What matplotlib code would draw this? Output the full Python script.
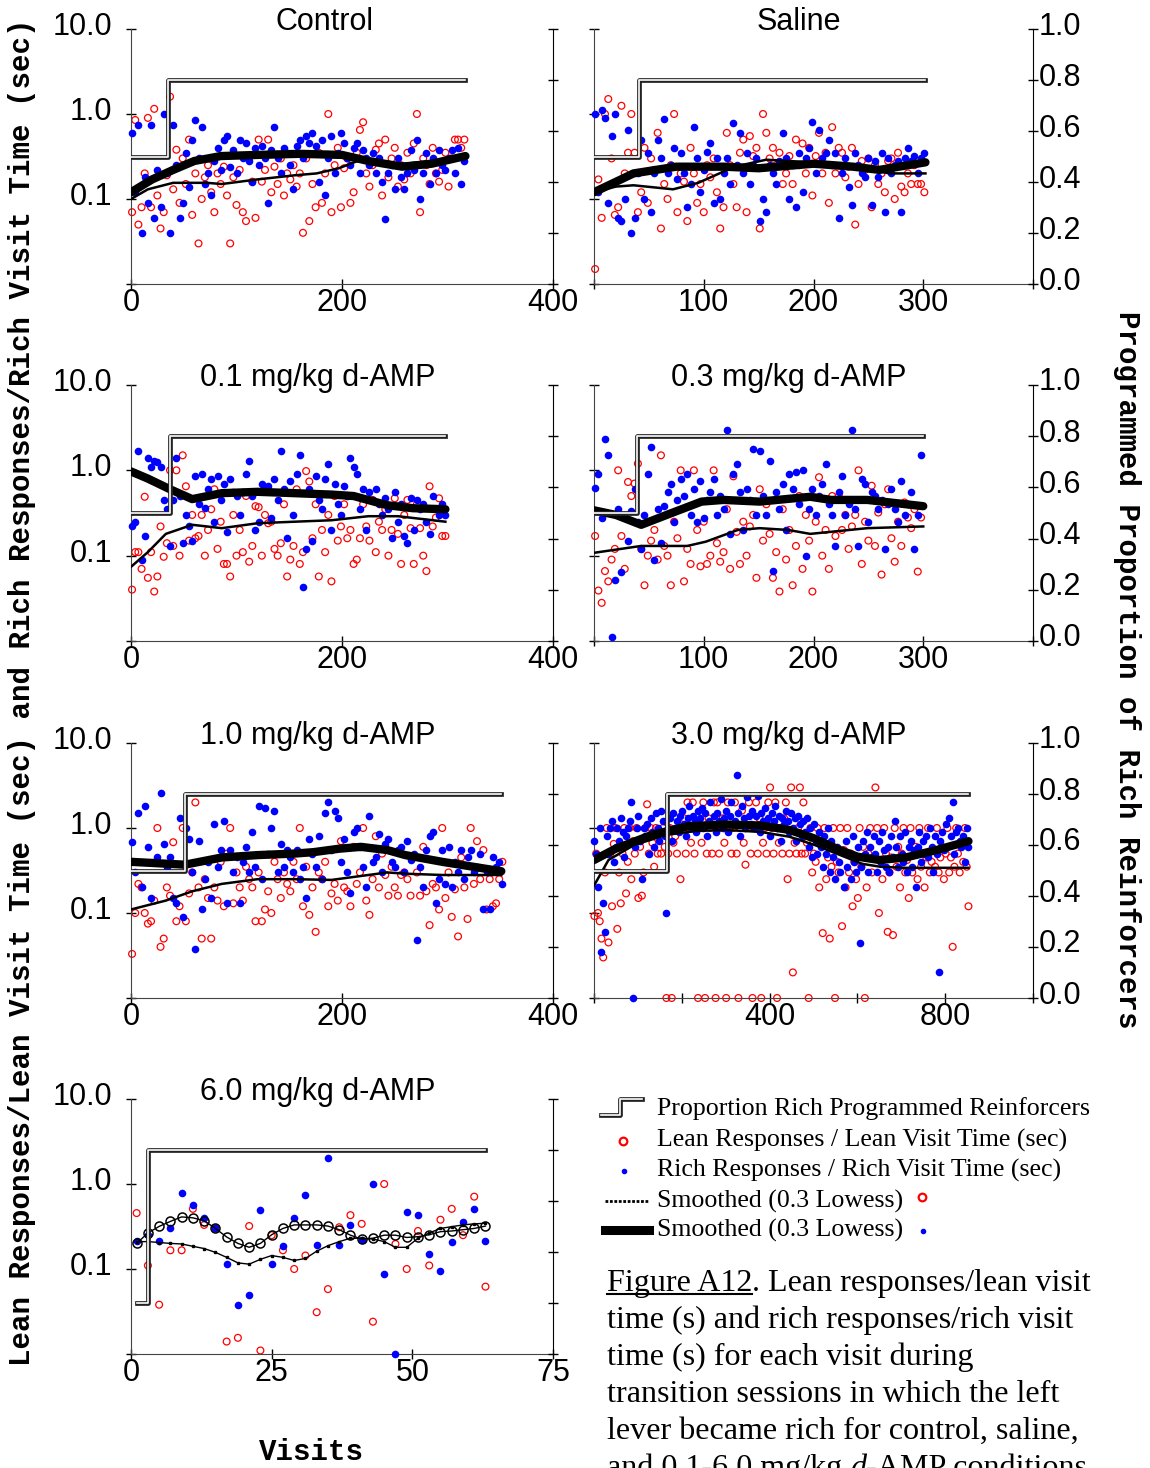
import numpy as np
import matplotlib
matplotlib.use("Agg")
import matplotlib.pyplot as plt
from matplotlib.ticker import FixedLocator, NullLocator
from matplotlib.transforms import blended_transform_factory, ScaledTranslation

plt.rcParams['font.family'] = ['Liberation Sans', 'DejaVu Sans']

# ---------------- data ----------------
# Control (every 3rd visit shown)
ctrl_lean = [0.07,0.85,0.05,0.08,0.2,0.9,0.08,1.15,0.11,0.045,
             0.07,0.19,1.6,0.13,0.38,0.09,0.3,0.15,0.5,0.065,
             0.2,0.03,0.1,0.18,0.25,0.12,0.07,0.2,0.15,0.24,
             0.11,0.03,0.18,0.085,0.22,0.07,0.055,0.3,0.16,0.06,
             0.5,0.16,0.22,0.5,0.12,0.24,0.15,0.3,0.11,0.2,
             0.17,0.25,0.14,0.2,0.04,0.3,0.055,0.15,0.08,0.35,
             0.09,0.2,1.0,0.07,0.25,0.4,0.08,0.23,0.3,0.09,
             0.12,0.35,0.65,0.8,0.2,0.14,0.25,0.38,0.45,0.11,
             0.5,0.18,0.3,0.4,0.14,0.25,0.17,0.35,0.2,0.45,
             1.0,0.07,0.3,0.25,0.15,0.4,0.2,0.16,0.22,0.35,
             0.14,0.3,0.5,0.5,0.4,0.5]
ctrl_rich = [0.6,0.12,0.75,0.04,0.18,0.09,0.75,0.06,0.22,0.08,
             1.0,0.2,0.04,0.75,0.25,0.06,0.09,0.35,0.14,0.5,
             0.85,0.3,0.7,0.15,0.2,0.11,0.28,0.4,0.22,0.5,
             0.55,0.24,0.38,0.2,0.5,0.3,0.45,0.28,0.16,0.4,
             0.25,0.42,0.3,0.09,0.38,0.7,0.3,0.2,0.4,0.35,
             0.25,0.13,0.42,0.5,0.3,0.55,0.45,0.6,0.42,0.16,
             0.5,0.11,0.3,0.55,0.2,0.35,0.6,0.45,0.3,0.25,
             0.4,0.45,0.2,0.38,0.3,0.25,0.35,0.2,0.3,0.16,
             0.058,0.2,0.25,0.13,0.3,0.18,0.13,0.2,0.38,0.22,
             0.5,0.1,0.2,0.35,0.15,0.3,0.2,0.38,0.25,0.22,
             0.3,0.38,0.2,0.4,0.15,0.28]
ctrl_rich_sm_x = [0, 20, 40, 60, 85, 120, 160, 200, 225, 257, 285, 317]
ctrl_rich_sm_y = [0.12, 0.17, 0.22, 0.28, 0.32, 0.33, 0.34, 0.33, 0.28, 0.24, 0.26, 0.32]
ctrl_lean_sm_x = [0, 16, 40, 72, 86, 120, 155, 176, 197, 218, 240, 260, 295, 317]
ctrl_lean_sm_y = [0.1, 0.13, 0.155, 0.155, 0.15, 0.17, 0.19, 0.2, 0.23, 0.29, 0.27, 0.26, 0.29, 0.32]
ctrl_step_x = [0, 35, 317]
ctrl_step_y = [0.5, 0.8, 0.8]

# Saline
sal_lean = [0.015,0.17,0.06,1.0,1.5,0.3,0.065,0.08,1.25,0.2,
            0.35,1.0,0.35,0.07,0.12,0.4,0.09,0.3,0.22,0.6,
            0.045,0.15,0.1,0.25,1.0,0.07,0.2,0.16,0.055,0.4,
            0.2,0.09,0.15,0.07,0.25,0.18,0.3,0.12,0.045,0.08,
            0.6,0.25,0.15,0.08,0.35,0.5,0.07,0.55,0.32,0.4,
            0.045,1.0,0.6,0.3,0.4,0.25,0.35,0.15,0.2,0.32,
            0.15,0.5,0.25,0.45,0.2,0.4,0.11,0.32,0.6,0.2,
            0.35,0.09,0.7,0.2,0.4,0.35,0.18,0.24,0.4,0.05,
            0.15,0.28,0.22,0.3,0.08,0.25,0.15,0.2,0.12,0.28,
            0.3,0.1,0.35,0.14,0.12,0.2,0.15,0.25,0.15,0.15,
            0.12]
sal_rich = [1.0,0.12,1.1,0.9,0.09,0.55,1.0,0.06,0.055,0.1,
            0.65,0.04,0.06,0.2,0.5,0.1,0.35,0.07,0.2,0.5,
            0.3,0.87,0.2,0.25,0.4,0.17,0.35,0.2,0.08,0.15,
            0.7,0.3,0.12,0.22,0.36,0.45,0.09,0.3,0.1,0.2,
            0.3,0.15,0.78,0.25,0.6,0.2,0.35,0.15,0.25,0.3,
            0.055,0.1,0.07,0.25,0.2,0.15,0.28,0.6,0.3,0.1,
            0.25,0.08,0.35,0.12,0.3,0.4,0.8,0.2,0.65,0.3,
            0.35,0.5,0.25,0.35,0.06,0.2,0.3,0.14,0.085,0.35,
            0.25,0.2,0.18,0.3,0.085,0.28,0.18,0.35,0.07,0.3,
            0.2,0.25,0.28,0.07,0.3,0.4,0.28,0.32,0.2,0.3,
            0.35]
sal_rich_sm_x = [0, 36, 75, 118, 150, 200, 236, 260, 302]
sal_rich_sm_y = [0.12, 0.2, 0.24, 0.24, 0.23, 0.26, 0.24, 0.22, 0.27]
sal_lean_sm_x = [0, 20, 36, 72, 95, 128, 157, 177, 200, 236, 269, 302]
sal_lean_sm_y = [0.12, 0.14, 0.145, 0.13, 0.155, 0.24, 0.29, 0.28, 0.27, 0.25, 0.2, 0.2]
sal_step_x = [0, 41, 302]
sal_step_y = [0.5, 0.8, 0.8]

# 0.1 mg/kg
d01_lean = [0.04,0.11,0.11,0.07,0.49,0.055,0.11,0.038,0.057,0.22,
            0.097,0.14,1.0,0.13,1.0,0.1,1.5,0.65,0.15,0.3,
            0.16,0.17,0.3,0.1,0.2,0.35,0.6,0.12,0.25,0.08,
            0.08,0.057,0.3,0.1,0.2,0.11,0.5,0.085,0.13,0.38,
            0.37,0.1,0.3,0.24,0.25,0.12,0.1,0.14,0.4,0.057,
            0.09,0.13,0.6,0.08,0.11,0.98,0.74,0.16,0.4,0.057,
            0.2,0.11,0.3,0.05,0.5,0.15,0.22,0.4,0.16,0.2,
            0.08,0.09,0.16,0.4,0.22,0.15,0.45,0.11,0.25,0.2,
            0.35,0.1,0.2,0.47,0.18,0.08,0.3,0.45,0.21,0.08,
            0.4,0.21,0.1,0.066,0.65,0.22,0.28,0.47,0.17,0.17]
d01_rich = [0.22,0.25,1.7,0.09,0.17,1.38,1.1,1.3,1.25,1.1,
            0.45,0.35,0.13,0.45,1.4,0.5,0.14,0.3,0.22,0.15,
            0.85,0.4,0.9,0.36,0.6,0.8,0.25,0.85,0.45,0.7,
            0.19,0.8,0.55,0.5,0.3,0.55,0.9,1.3,0.5,0.2,
            0.25,0.7,0.6,0.65,0.28,0.8,0.45,1.7,0.6,0.16,
            0.75,0.3,0.9,1.5,0.043,0.12,0.6,0.15,0.85,0.45,
            0.35,0.8,1.2,0.2,0.7,0.4,0.3,0.65,0.5,1.4,
            1.1,0.9,0.35,0.6,0.2,0.55,0.45,0.6,0.4,0.3,
            0.48,0.35,0.16,0.55,0.25,0.4,0.17,0.14,0.47,0.2,
            0.45,0.35,0.4,0.25,0.18,0.5,0.35,0.3,0.4,0.3]
d01_rich_sm_x = [0, 16, 37, 58, 86, 120, 155, 190, 211, 243, 267, 298]
d01_rich_sm_y = [0.97, 0.8, 0.6, 0.46, 0.54, 0.56, 0.54, 0.52, 0.5, 0.39, 0.36, 0.35]
d01_lean_sm_x = [0, 16, 33, 58, 72, 86, 120, 155, 190, 225, 253, 298]
d01_lean_sm_y = [0.074, 0.11, 0.18, 0.23, 0.22, 0.21, 0.24, 0.25, 0.26, 0.29, 0.29, 0.25]
d01_step_x = [0, 37, 298]
d01_step_y = [0.5, 0.8, 0.8]

# 0.3 mg/kg
d03_lean = [0.17,0.039,0.028,0.066,0.05,0.09,0.12,1.0,0.17,0.07,
            0.73,0.5,0.7,1.2,0.12,0.045,0.1,0.15,0.2,0.09,
            1.5,0.13,0.1,0.045,0.25,0.16,1.0,0.05,0.12,0.08,
            1.0,0.2,0.075,0.25,0.08,0.1,1.0,0.14,0.085,0.11,
            0.35,0.07,0.85,0.19,0.08,0.25,0.1,0.22,0.3,0.055,
            0.6,0.15,0.4,0.18,0.055,0.11,0.038,0.35,0.09,0.2,
            0.045,0.13,0.5,0.07,0.3,0.15,0.038,0.25,0.83,0.1,
            0.2,0.07,0.5,0.17,0.5,0.2,0.3,0.12,0.22,0.3,
            1.0,0.08,0.25,0.15,0.66,0.13,0.32,0.06,0.4,0.6,
            0.16,0.085,0.25,0.13,0.42,0.28,0.21,0.35,0.065,0.28]
d03_rich = [0.62,0.9,0.28,2.3,1.5,0.011,0.052,0.35,0.065,0.28,
            0.15,0.33,0.6,0.25,0.12,0.3,0.9,1.9,0.09,0.35,
            0.14,0.38,0.55,0.7,0.25,0.45,0.8,0.5,0.9,0.3,
            0.6,0.25,0.75,0.28,0.45,0.55,0.8,0.3,0.5,0.35,
            3.0,0.18,0.9,1.2,0.55,0.2,0.6,0.45,1.8,0.3,
            1.7,0.5,0.3,1.3,0.066,0.55,0.35,0.7,0.2,0.9,
            0.6,0.95,0.4,1.0,0.1,0.35,0.6,0.3,0.5,0.7,
            1.2,0.4,0.3,0.13,0.55,0.85,0.3,0.4,3.0,0.35,
            0.13,0.8,0.7,0.25,0.55,0.5,0.35,0.45,0.12,0.4,
            0.6,0.35,0.25,0.75,0.3,0.4,0.55,0.12,0.3,1.5]
d03_rich_sm_x = [0, 20, 43, 69, 98, 118, 151, 197, 216, 249, 300]
d03_rich_sm_y = [0.34, 0.30, 0.23, 0.31, 0.43, 0.45, 0.43, 0.49, 0.45, 0.45, 0.38]
d03_lean_sm_x = [0, 43, 85, 102, 131, 151, 177, 197, 249, 300]
d03_lean_sm_y = [0.108, 0.13, 0.13, 0.146, 0.2, 0.21, 0.2, 0.18, 0.21, 0.22]
d03_step_x = [0, 39, 300]
d03_step_y = [0.5, 0.8, 0.8]

# 1.0 mg/kg
d10_lean = [0.033,0.1,0.22,0.2,0.1,0.075,0.08,0.14,1.0,0.04,
            0.05,0.2,0.16,0.68,0.08,0.12,1.0,0.08,0.17,0.3,
            2.0,0.2,0.05,0.25,0.15,0.05,0.2,0.14,0.4,0.12,
            0.5,1.0,0.13,0.3,0.2,0.14,0.35,0.25,0.2,0.08,
            0.3,0.08,0.11,0.18,0.1,0.4,0.25,0.15,0.3,0.22,
            0.18,0.4,0.25,1.0,0.12,0.35,0.095,0.2,0.06,0.3,
            0.25,0.4,0.12,0.17,0.22,0.14,0.7,0.2,0.18,0.12,
            0.6,0.22,0.3,1.0,0.14,0.095,0.25,0.8,0.2,0.5,
            0.28,0.16,0.35,0.2,0.16,0.28,0.3,0.25,0.16,0.45,
            0.3,0.16,0.6,0.18,0.072,0.22,0.2,0.11,1.0,0.15,
            0.3,0.09,0.19,0.053,0.45,0.2,0.085,1.0,0.22,0.7,
            0.25,0.55,0.11,0.25,0.12,0.13,0.25,0.4]
d10_rich = [0.68,0.3,1.5,0.2,1.8,0.6,0.15,0.4,0.45,2.6,
            0.65,0.35,0.45,0.15,0.13,1.3,0.09,1.0,0.74,0.3,
            0.038,0.7,0.11,0.25,0.4,0.15,1.1,0.35,0.55,1.2,
            0.13,0.55,0.3,0.45,0.13,0.4,0.6,0.3,0.9,0.35,
            1.8,0.25,1.7,0.5,1.0,1.6,0.3,0.65,0.35,0.55,
            0.45,0.3,0.55,0.25,0.35,0.15,0.75,0.5,0.35,0.8,
            0.25,1.5,2.0,0.55,1.6,1.3,0.4,0.75,0.3,0.17,
            0.9,1.0,0.6,0.35,0.2,1.4,0.4,0.45,0.85,0.3,
            0.65,0.75,0.4,0.35,0.55,0.6,0.3,0.7,0.42,0.5,
            0.048,0.35,0.2,0.55,0.8,0.9,0.13,0.25,0.55,0.22,
            0.6,0.2,0.4,0.3,0.55,0.25,0.45,0.55,0.3,0.35,
            0.5,0.11,0.3,0.11,0.45,0.35,0.4,0.22]
d10_rich_sm_x = [0, 51, 86, 120, 155, 173, 197, 218, 243, 260, 295, 351]
d10_rich_sm_y = [0.40, 0.37, 0.45, 0.48, 0.5, 0.52, 0.57, 0.6, 0.55, 0.48, 0.4, 0.31]
d10_lean_sm_x = [0, 33, 58, 86, 120, 155, 190, 225, 243, 260, 295, 351]
d10_lean_sm_y = [0.11, 0.14, 0.18, 0.22, 0.25, 0.25, 0.245, 0.28, 0.3, 0.29, 0.28, 0.28]
d10_step_x = [0, 51, 351]
d10_step_y = [0.5, 0.8, 0.8]

# 3.0 mg/kg (every 4th visit shown; 0.01 = zero rate drawn on the axis)
d30_lean = [0.092,0.5,0.1,0.08,0.05,0.03,0.3,1.0,0.045,0.5,
            0.12,0.65,1.0,0.065,0.3,0.13,0.5,1.0,0.17,0.4,
            1.0,0.25,0.7,0.5,1.0,0.15,0.6,0.16,0.3,1.0,
            1.9,0.5,1.0,0.67,0.35,1.0,0.5,0.8,0.5,1.0,
            0.6,0.01,0.5,1.0,0.01,0.67,0.8,0.5,1.0,0.25,
            1.0,1.3,0.5,2.0,1.0,0.67,2.0,0.5,1.0,0.01,
            1.0,0.67,2.0,0.01,0.5,1.3,1.0,0.5,2.0,0.01,
            2.0,0.5,1.0,1.3,0.67,0.01,2.0,1.0,0.5,1.0,
            2.0,0.5,0.01,1.0,1.6,0.67,0.37,1.0,2.0,0.5,
            0.01,1.0,2.0,0.5,1.3,0.01,0.67,1.0,0.5,2.0,
            3.0,1.0,0.5,2.0,0.01,0.67,1.0,0.5,1.3,2.0,
            0.25,0.5,3.0,0.02,0.67,0.5,1.0,3.0,0.5,2.0,
            0.5,0.67,0.01,1.0,0.3,0.5,0.4,1.0,0.2,0.7,
            0.058,1.0,0.25,0.45,0.05,0.35,1.0,0.01,0.4,0.3,
            1.0,0.07,0.55,0.2,1.0,0.3,0.5,0.12,0.4,0.25,
            0.15,1.0,0.35,0.6,0.01,0.2,0.5,1.0,0.3,0.45,
            3.0,1.0,0.1,0.4,0.25,1.0,0.5,0.06,0.3,0.45,
            0.055,1.0,0.35,0.6,0.2,0.5,1.0,0.3,0.42,0.15,
            1.0,0.3,0.5,0.6,0.25,1.0,0.35,0.5,0.2,0.45,
            1.0,0.3,0.4,0.55,0.35,1.0,0.3,0.45,0.6,0.25,
            0.5,1.0,0.3,0.45,0.04,0.35,1.0,0.5,0.3,0.6,
            0.4,1.0,0.35,0.12]
d30_rich = [0.7,0.5,0.2,1.0,0.035,0.13,0.06,0.8,0.5,1.0,
            1.2,0.4,0.6,1.0,0.7,1.3,0.9,0.45,0.8,1.0,
            1.2,2.0,0.01,0.6,1.0,1.4,0.7,0.25,1.0,0.8,
            1.1,0.5,1.3,0.9,0.6,1.5,1.0,0.7,1.6,1.2,
            0.8,0.1,1.0,1.3,0.7,1.5,1.0,1.2,0.9,1.4,
            1.6,1.1,0.8,1.3,1.8,1.0,1.4,1.2,0.9,1.6,
            1.3,1.7,1.0,1.5,0.8,1.2,2.0,1.1,1.4,0.9,
            1.5,1.2,2.2,1.0,1.3,1.6,0.9,1.4,2.0,1.1,
            1.2,4.2,1.5,0.8,1.8,1.3,1.0,2.3,1.4,1.1,
            1.6,1.0,1.4,2.4,0.9,1.5,1.2,1.7,1.1,1.3,
            0.8,1.5,1.2,1.8,1.0,1.4,0.7,1.3,1.1,1.6,
            1.2,0.9,1.5,1.0,1.3,0.7,1.4,1.1,0.8,1.2,
            0.9,1.3,0.6,1.0,0.45,1.1,0.7,0.5,0.9,0.6,
            0.35,0.8,0.5,1.0,0.3,0.7,0.45,0.25,0.6,0.4,
            0.3,0.55,0.2,0.7,0.35,0.5,0.25,0.8,0.4,0.3,
            0.6,0.044,0.35,0.7,0.5,0.9,0.3,0.6,0.45,0.8,
            0.5,0.3,0.7,0.4,0.9,0.55,0.35,0.6,0.3,0.8,
            0.45,1.2,0.6,0.35,0.8,0.5,0.4,0.9,0.3,0.6,
            0.7,0.35,0.55,0.2,0.6,0.9,0.4,0.7,0.5,0.8,
            0.45,1.0,0.6,0.3,0.8,0.5,0.02,0.7,0.9,0.55,
            1.1,0.6,1.3,0.8,2.0,0.5,0.9,1.0,0.7,0.6,
            0.8,0.4,1.0,0.6]
d30_rich_sm_x = [0, 49, 132, 214, 297, 379, 445, 500, 560, 600, 650, 710, 780, 853]
d30_rich_sm_y = [0.42, 0.57, 0.83, 1.05, 1.1, 1.07, 0.95, 0.76, 0.55, 0.46, 0.42, 0.45, 0.55, 0.7]
d30_lean_sm_x = [0, 33, 91, 165, 231, 297, 379, 445, 503, 561, 610, 652, 709, 853]
d30_lean_sm_y = [0.21, 0.42, 0.63, 0.83, 0.92, 0.95, 0.9, 0.79, 0.63, 0.48, 0.38, 0.35, 0.34, 0.34]
d30_step_x = [0, 167, 853]
d30_step_y = [0.5, 0.8, 0.8]

# 6.0 mg/kg (every 2nd visit)
d60_lean = [0.455,0.11,0.038,0.166,0.166,0.51,0.33,0.3,0.014,0.0155,
            0.32,0.011,0.25,0.166,0.1,0.144,0.031,0.058,0.31,0.43,
            0.34,0.024,1.0,0.197,0.1,0.28,0.11,0.38,0.51,0.25,
            0.71,0.062]
d60_rich = [0.215,0.25,0.215,0.3,0.79,0.56,0.4,0.3,0.115,0.038,
            0.049,0.5,0.115,0.185,0.4,0.75,0.19,2.0,0.19,0.33,
            0.22,1.0,0.088,0.01,0.47,0.43,0.15,0.095,0.21,0.355,
            0.51,0.215]
d60_rich_sm = [0.2,0.265,0.317,0.363,0.41,0.40,0.37,0.30,0.238,0.2,
               0.18,0.2,0.253,0.30,0.33,0.33,0.33,0.32,0.29,0.25,
               0.225,0.23,0.25,0.25,0.235,0.24,0.253,0.275,0.28,0.29,
               0.30,0.32]
d60_lean_sm = [0.21,0.21,0.205,0.2,0.197,0.185,0.174,0.157,0.137,0.118,
               0.114,0.13,0.144,0.137,0.126,0.133,0.162,0.188,0.21,0.23,
               0.23,0.225,0.21,0.18,0.18,0.23,0.265,0.30,0.315,0.33,
               0.34,0.345]
d60_step_x = [1, 3, 63]
d60_step_y = [0.2, 0.8, 0.8]

log_ticks = [0.01, 0.1, 1, 10]
log_labels = ['', '0.1', '1.0', '10.0']
prop_ticks = [0, 0.2, 0.4, 0.6, 0.8, 1.0]
prop_labels = ['0.0', '0.2', '0.4', '0.6', '0.8', '1.0']

# ---------------- figure ----------------
W, H = 1150, 1468
fig = plt.figure(figsize=(W / 100, H / 100), dpi=100)
RED, BLUE = '#ff0000', '#0000ff'
FS = 22
LCOL = (131, 553)
RCOL = (594, 1033)
ROWS = [(29, 284), (385, 641), (743, 998), (1099, 1354)]


def px_off(dx, dy):
    return ScaledTranslation(dx / 100, dy / 100, fig.dpi_scale_trans)


def add_px_axes(xr, yr):
    return fig.add_axes([xr[0] / W, 1 - yr[1] / H, (xr[1] - xr[0]) / W, (yr[1] - yr[0]) / H])


def panel(xr, yr, title, tx, xlim, xt, xl, lean, rich, stride, start,
          lsm, rsm, step, left_lab, right_lab, small=False):
    ax = add_px_axes(xr, yr)
    x = np.arange(start, start + stride * len(lean), stride)
    ax.scatter(x, lean, s=24, facecolors='none', edgecolors=RED, linewidths=0.9,
               clip_on=False, zorder=2)
    ax.scatter(x, rich, s=30, color=BLUE, linewidths=0, clip_on=False, zorder=3)
    if small:
        ax.plot(x, lsm, color='black', lw=1.0, marker='s', ms=1.8, zorder=5)
        ax.plot(x, rsm, color='black', lw=1.0, marker='o', ms=6.5, mfc='none',
                mec='black', mew=1.1, zorder=5)
    else:
        ax.plot(rsm[0], rsm[1], color='black', lw=6.0, solid_capstyle='round',
                solid_joinstyle='round', zorder=4)
        ax.plot(lsm[0], lsm[1], color='black', lw=1.8, solid_joinstyle='round', zorder=5)
    ax.set_yscale('log')
    ax.set_ylim(0.01, 10)
    ax.set_xlim(*xlim)
    ax.yaxis.set_major_locator(FixedLocator(log_ticks))
    ax.set_yticklabels([''] * len(log_ticks))
    ax.yaxis.set_minor_locator(NullLocator())
    ax.set_xticks(xt)
    ax.set_xticklabels(xl)
    ax.tick_params(axis='y', direction='inout', length=7, width=1)
    ax.tick_params(axis='x', direction='inout', length=7, width=1, labelsize=FS, pad=-0.5)
    for sp in ['top', 'right']:
        ax.spines[sp].set_visible(False)
    ax.spines['left'].set_color('#444444')
    ax.spines['bottom'].set_color('#444444')
    if left_lab:
        tr = blended_transform_factory(ax.transAxes, ax.transData) + px_off(-19, 5.5)
        for v, s in zip(log_ticks, log_labels):
            if s:
                ax.text(0, v, s, transform=tr, ha='right', va='center_baseline', fontsize=FS)
    ax2 = ax.twinx()
    ax2.set_ylim(0, 1)
    ax2.plot(step[0], step[1], drawstyle='steps-post', color='#222222', lw=3.4, zorder=1)
    ax2.plot(step[0], step[1], drawstyle='steps-post', color='white', lw=1.2, zorder=1)
    ax2.set_yticks(prop_ticks)
    ax2.set_yticklabels([''] * len(prop_ticks))
    ax2.tick_params(axis='y', direction='inout', length=7, width=1)
    ax2.spines['top'].set_visible(False)
    ax2.spines['left'].set_visible(False)
    ax2.spines['bottom'].set_visible(False)
    if right_lab:
        tr2 = blended_transform_factory(ax2.transAxes, ax2.transData) + px_off(6, 6)
        for v, s in zip(prop_ticks, prop_labels):
            ax2.text(1, v, s, transform=tr2, ha='left', va='center_baseline', fontsize=FS)
    ax.text(tx, 0.998, title, transform=ax.transAxes, ha='center', va='baseline', fontsize=FS)
    return ax


panel(LCOL, ROWS[0], 'Control', 0.459, (0, 400), [0, 200, 400], ['0', '200', '400'],
      ctrl_lean, ctrl_rich, 3, 1, (ctrl_lean_sm_x, ctrl_lean_sm_y), (ctrl_rich_sm_x, ctrl_rich_sm_y),
      (ctrl_step_x, ctrl_step_y), True, False)
panel(RCOL, ROWS[0], 'Saline', 0.467, (0, 400), [0, 100, 200, 300, 400], ['', '100', '200', '300', ''],
      sal_lean, sal_rich, 3, 1, (sal_lean_sm_x, sal_lean_sm_y), (sal_rich_sm_x, sal_rich_sm_y),
      (sal_step_x, sal_step_y), False, True)
panel(LCOL, ROWS[1], '0.1 mg/kg d-AMP', 0.442, (0, 400), [0, 200, 400], ['0', '200', '400'],
      d01_lean, d01_rich, 3, 1, (d01_lean_sm_x, d01_lean_sm_y), (d01_rich_sm_x, d01_rich_sm_y),
      (d01_step_x, d01_step_y), True, False)
panel(RCOL, ROWS[1], '0.3 mg/kg d-AMP', 0.444, (0, 400), [0, 100, 200, 300, 400], ['', '100', '200', '300', ''],
      d03_lean, d03_rich, 3, 1, (d03_lean_sm_x, d03_lean_sm_y), (d03_rich_sm_x, d03_rich_sm_y),
      (d03_step_x, d03_step_y), False, True)
panel(LCOL, ROWS[2], '1.0 mg/kg d-AMP', 0.442, (0, 400), [0, 200, 400], ['0', '200', '400'],
      d10_lean, d10_rich, 3, 1, (d10_lean_sm_x, d10_lean_sm_y), (d10_rich_sm_x, d10_rich_sm_y),
      (d10_step_x, d10_step_y), True, False)
panel(RCOL, ROWS[2], '3.0 mg/kg d-AMP', 0.444, (0, 1000), [0, 200, 400, 600, 800, 1000],
      ['', '', '400', '', '800', ''],
      d30_lean, d30_rich, 4, 1, (d30_lean_sm_x, d30_lean_sm_y), (d30_rich_sm_x, d30_rich_sm_y),
      (d30_step_x, d30_step_y), False, True)
panel(LCOL, ROWS[3], '6.0 mg/kg d-AMP', 0.442, (0, 75), [0, 25, 50, 75], ['0', '25', '50', '75'],
      d60_lean, d60_rich, 2, 1, d60_lean_sm, d60_rich_sm,
      (d60_step_x, d60_step_y), True, False, small=True)

# ---------------- axis titles, legend, caption ----------------
tax = fig.add_axes([0, 0, 1, 1])
tax.set_xlim(0, W)
tax.set_ylim(H, 0)
tax.axis('off')

MONO = dict(family=['Liberation Mono', 'DejaVu Sans Mono'], weight='bold', fontsize=21)
tax.text(22, 692, 'Lean Responses/Lean Visit Time (sec) and Rich Responses/Rich Visit Time (sec)',
         rotation=90, ha='center', va='center', **MONO)
tax.text(1127, 670, 'Programmed Proportion of Rich Reinforcers', rotation=-90,
         ha='center', va='center', **MONO)
tax.text(311, 1452, 'Visits', ha='center', va='center', **MONO)

SERIF = ['Liberation Serif', 'DejaVu Serif']
LFS = 18.6
tax.plot([601, 620, 620, 642], [1115, 1115, 1099, 1099], color='#222222', lw=3.4)
tax.plot([601, 620, 620, 642], [1115, 1115, 1099, 1099], color='white', lw=1.2)
tax.plot([623], [1141], 'o', mfc='none', mec=RED, ms=5.5, mew=1.6)
tax.plot([624], [1171], 'o', color=BLUE, ms=3)
tax.plot([605, 649], [1201, 1201], color='black', lw=2.0, ls=(0, (1, 0.6)))
tax.plot([922], [1197], 'o', mfc='none', mec=RED, ms=5.5, mew=1.6)
tax.plot([605, 649], [1230, 1230], color='black', lw=6.5)
tax.plot([923], [1231], 'o', color=BLUE, ms=3)
legend_texts = ['Proportion Rich Programmed Reinforcers',
                'Lean Responses / Lean Visit Time (sec)',
                'Rich Responses / Rich Visit Time (sec)',
                'Smoothed (0.3 Lowess)',
                'Smoothed (0.3 Lowess)']
legend_base = [1115, 1147, 1177, 1208, 1237]
for s, yb in zip(legend_texts, legend_base):
    tax.text(657, yb, s, ha='left', va='baseline', family=SERIF, fontsize=LFS)

CFS = 23.1
cap_base = [1291, 1328, 1365, 1402, 1439, 1476]
cap_lines = [None,
             'time (s) and rich responses/rich visit',
             'time (s) for each visit during',
             'transition sessions in which the left',
             'lever became rich for control, saline,',
             None]
t0 = tax.text(607, cap_base[0], 'Figure A12', ha='left', va='baseline', family=SERIF, fontsize=CFS)
for s, yb in zip(cap_lines, cap_base):
    if s:
        tax.text(607, yb, s, ha='left', va='baseline', family=SERIF, fontsize=CFS)
t6 = tax.text(607, cap_base[5], 'and 0.1-6.0 mg/kg ', ha='left', va='baseline', family=SERIF, fontsize=CFS)
fig.canvas.draw()
r = fig.canvas.get_renderer()
w0 = t0.get_window_extent(renderer=r).width
tax.text(607 + w0, cap_base[0], '. Lean responses/lean visit', ha='left', va='baseline', family=SERIF, fontsize=CFS)
tax.plot([607, 607 + w0], [cap_base[0] + 3, cap_base[0] + 3], color='black', lw=1.5)
w6 = t6.get_window_extent(renderer=r).width
t7 = tax.text(607 + w6, cap_base[5], 'd', ha='left', va='baseline', family=SERIF, style='italic', fontsize=CFS)
fig.canvas.draw()
w7 = t7.get_window_extent(renderer=r).width
tax.text(607 + w6 + w7, cap_base[5], '-AMP conditions.', ha='left', va='baseline', family=SERIF, fontsize=CFS)

fig.savefig('out.png', dpi=100)
